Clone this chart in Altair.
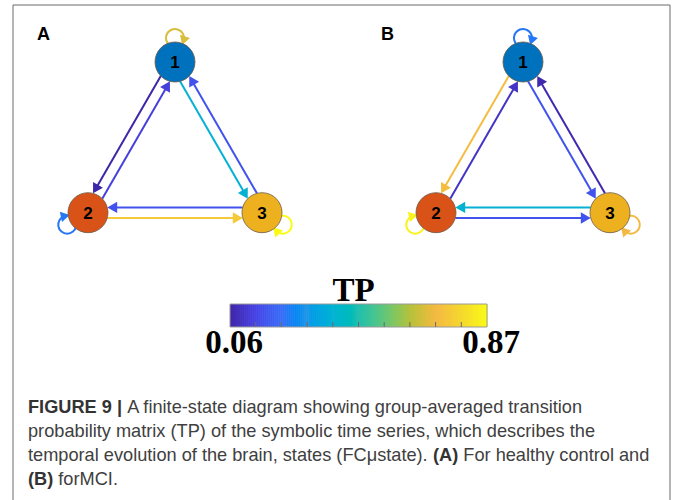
import math
import altair as alt
import pandas as pd

# ---------------------------------------------------------------------------
# Data: group-averaged transition probabilities TP[i][j] (state i -> state j)
# ---------------------------------------------------------------------------
STATES = ["1", "2", "3"]
PANELS = ["A", "B"]
TP_HC = [[0.67, 0.06, 0.38],
         [0.13, 0.24, 0.75],
         [0.17, 0.17, 0.87]]
TP_MCI = [[0.24, 0.72, 0.17],
          [0.10, 0.85, 0.17],
          [0.07, 0.38, 0.71]]
TP_MIN, TP_MAX = 0.06, 0.87
COLORBAR_TITLE = "TP"

# caption: each line is a list of (text, bold) runs
CAPTION = [
    [("FIGURE 9 |", True), ("A finite-state diagram showing group-averaged transition", False)],
    [("probability matrix (TP) of the symbolic time series, which describes the", False)],
    [("temporal evolution of the brain, states (FC\u03bcstate).", False), ("(A)", True),
     ("For healthy control and", False)],
    [("(B)", True), ("forMCI.", False)],
]

# ---------------------------------------------------------------------------
# Layout and style
# ---------------------------------------------------------------------------
W, H = 675, 500
APEX = {"A": (175.0, 62.0), "B": (523.0, 62.0)}
SIDE = 174.0
R_NODE = 20.0
PAIR_OFFSET = 5.3
ARROW_SIZE = 130
ARROW_H = 0.433 * math.sqrt(ARROW_SIZE)
LOOP_D, LOOP_R = 24.0, 9.0
LOOP_ARROW_SIZE = 110
NODE_FILL = ["#0072BD", "#D95319", "#EDB120"]
PANEL_LABEL_POS = {"A": (37, 40), "B": (381, 40)}
BAR_X0, BAR_Y0, BAR_LEN, BAR_THICK = 230, 304, 257, 23
BAR_STEPS = 128
PARULA = ["#3e26a8", "#4743e5", "#3a6cf7", "#2196e8", "#0fb2d2", "#24bfad",
          "#62c67a", "#b6c13e", "#f3b943", "#f4d82d", "#f9fb15"]
SANS = "Liberation Sans"
SERIF = "Liberation Serif"
CAP_SIZE = 18.2
CAP_X0 = 28
CAP_Y = [413, 437, 461, 485]

# advance widths (1/1000 em) of Liberation Sans, regular and bold
_REG = {" ": 278, "(": 333, ")": 333, ",": 278, "-": 333, ".": 278, "|": 260,
        "A": 667, "C": 722, "F": 611, "I": 278, "M": 833, "P": 667, "T": 611,
        "a": 556, "b": 556, "c": 500, "d": 556, "e": 556, "f": 278, "g": 556,
        "h": 556, "i": 222, "j": 222, "k": 500, "l": 222, "m": 833, "n": 556,
        "o": 556, "p": 556, "q": 556, "r": 333, "s": 500, "t": 278, "u": 556,
        "v": 500, "w": 722, "x": 500, "y": 500, "z": 500, "\u03bc": 576}
_BOLD = {" ": 278, "(": 333, ")": 333, "|": 280, "9": 556, "A": 722, "B": 722,
         "E": 667, "F": 611, "G": 778, "I": 278, "R": 722, "U": 722}


def text_width(s, bold, size):
    table = _BOLD if bold else _REG
    return sum(table.get(ch, 556) for ch in s) * size / 1000.0


def node_positions(apex):
    x0, y0 = apex
    hgt = SIDE * math.sqrt(3) / 2
    return [(x0, y0), (x0 - SIDE / 2, y0 + hgt), (x0 + SIDE / 2, y0 + hgt)]


def heading(dx, dy):
    # clockwise degrees from 12 o'clock, screen coordinates (y down)
    return math.degrees(math.atan2(dx, -dy)) % 360


edges, heads, loops, loop_heads, nodes = [], [], [], [], []
for panel, mat in zip(PANELS, [TP_HC, TP_MCI]):
    pos = node_positions(APEX[panel])
    cx = sum(p[0] for p in pos) / 3
    cy = sum(p[1] for p in pos) / 3
    for i, (xi, yi) in enumerate(pos):
        nodes.append({"x": xi, "y": yi, "label": STATES[i], "fill": NODE_FILL[i]})
        for j, (xj, yj) in enumerate(pos):
            tp = mat[i][j]
            if i == j:
                # self transition drawn as a loop pointing away from the centroid
                phi = heading(xi - cx, yi - cy)
                lx = xi + LOOP_D * math.sin(math.radians(phi))
                ly = yi - LOOP_D * math.cos(math.radians(phi))
                loops.append({"x": lx, "y": ly, "tp": tp,
                              "t0": math.radians(phi - 140 + 360),
                              "t1": math.radians(phi + 100 + 360)})
                a = math.radians(phi + 108)
                loop_heads.append({"x": lx + LOOP_R * math.sin(a),
                                   "y": ly - LOOP_R * math.cos(a),
                                   "tp": tp, "ang": (phi + 108 + 90) % 360})
                continue
            L = math.hypot(xj - xi, yj - yi)
            dx, dy = (xj - xi) / L, (yj - yi) / L
            px, py = -dy, dx  # right-hand side of travel
            along = math.sqrt(R_NODE ** 2 - PAIR_OFFSET ** 2)
            sx = xi + PAIR_OFFSET * px + along * dx
            sy = yi + PAIR_OFFSET * py + along * dy
            tx = xj + PAIR_OFFSET * px - along * dx
            ty = yj + PAIR_OFFSET * py - along * dy
            edges.append({"x1": sx, "y1": sy,
                          "x2": tx - 1.6 * ARROW_H * dx, "y2": ty - 1.6 * ARROW_H * dy,
                          "tp": tp})
            heads.append({"x": tx - ARROW_H * dx, "y": ty - ARROW_H * dy,
                          "tp": tp, "ang": heading(dx, dy)})

xs = alt.Scale(domain=[0, W], range=[0, W])
ys = alt.Scale(domain=[0, H], range=[0, H])
X = lambda f: alt.X(f, type="quantitative", scale=xs, axis=None)
Y = lambda f: alt.Y(f, type="quantitative", scale=ys, axis=None)

tp_color = alt.Color("tp:Q", scale=alt.Scale(domain=[TP_MIN, TP_MAX], range=PARULA),
                     legend=None)

# frame
frame = pd.DataFrame([
    {"x1": 13, "y1": 5, "x2": 670, "y2": 5},
    {"x1": 13, "y1": 5, "x2": 13, "y2": H},
    {"x1": 670, "y1": 5, "x2": 670, "y2": H},
])
frame_layer = alt.Chart(frame).mark_rule(color="#6b6b6b", strokeWidth=1).encode(
    x=X("x1"), y=Y("y1"), x2="x2:Q", y2="y2:Q")

edge_layer = alt.Chart(pd.DataFrame(edges)).mark_rule(strokeWidth=2, strokeCap="butt").encode(
    x=X("x1"), y=Y("y1"), x2="x2:Q", y2="y2:Q", color=tp_color)

head_layer = alt.Chart(pd.DataFrame(heads)).mark_point(
    shape="triangle-up", filled=True, opacity=1, size=ARROW_SIZE, strokeWidth=0
).encode(x=X("x"), y=Y("y"), color=tp_color, angle=alt.Angle("ang:Q", scale=None))

loop_layer = alt.Chart(pd.DataFrame(loops)).mark_arc(
    radius=LOOP_R + 1.0, radius2=LOOP_R - 1.0
).encode(
    x=X("x"), y=Y("y"),
    theta=alt.Theta("t0:Q", scale=None, stack=False), theta2="t1:Q",
    color=tp_color)

loop_head_layer = alt.Chart(pd.DataFrame(loop_heads)).mark_point(
    shape="triangle-up", filled=True, opacity=1, size=LOOP_ARROW_SIZE, strokeWidth=0
).encode(x=X("x"), y=Y("y"), color=tp_color, angle=alt.Angle("ang:Q", scale=None))

node_df = pd.DataFrame(nodes)
node_layer = alt.Chart(node_df).mark_circle(
    size=(2 * R_NODE) ** 2, opacity=1, stroke="#6e5a48", strokeWidth=0.8
).encode(x=X("x"), y=Y("y"), fill=alt.Fill("fill:N", scale=None))

node_text = alt.Chart(node_df).mark_text(
    font=SANS, fontSize=17, fontWeight="bold", color="black", baseline="middle", dy=1
).encode(x=X("x"), y=Y("y"), text="label:N")

panel_df = pd.DataFrame([{"x": PANEL_LABEL_POS[p][0], "y": PANEL_LABEL_POS[p][1], "t": p}
                         for p in PANELS])
panel_text = alt.Chart(panel_df).mark_text(
    font=SANS, fontSize=18, fontWeight="bold", color="black", align="left",
    baseline="alphabetic"
).encode(x=X("x"), y=Y("y"), text="t:N")

# colour bar: stripes sampled across the TP range, drawn through the same colour scale
step = BAR_LEN / BAR_STEPS
bar_rows = []
for k in range(BAR_STEPS):
    v = TP_MIN + (k + 0.5) / BAR_STEPS * (TP_MAX - TP_MIN)
    bar_rows.append({"x1": BAR_X0 + k * step, "x2": BAR_X0 + (k + 1) * step + 0.6,
                     "y1": BAR_Y0, "y2": BAR_Y0 + BAR_THICK, "tp": v})
bar_layer = alt.Chart(pd.DataFrame(bar_rows)).mark_rect(strokeWidth=0).encode(
    x=X("x1"), x2="x2:Q", y=Y("y1"), y2="y2:Q", color=tp_color)

bar_frame = alt.Chart(pd.DataFrame([{"x1": BAR_X0, "x2": BAR_X0 + BAR_LEN,
                                     "y1": BAR_Y0, "y2": BAR_Y0 + BAR_THICK}])).mark_rect(
    fill=None, stroke="#9a9a9a", strokeWidth=1).encode(
    x=X("x1"), x2="x2:Q", y=Y("y1"), y2="y2:Q")

tick_vals = [TP_MIN + k * (TP_MAX - TP_MIN) / 10 for k in range(1, 10)]
ticks = pd.DataFrame([{"x": BAR_X0 + (v - TP_MIN) / (TP_MAX - TP_MIN) * BAR_LEN,
                       "y1": BAR_Y0 + BAR_THICK - 5, "y2": BAR_Y0 + BAR_THICK} for v in tick_vals])
tick_layer = alt.Chart(ticks).mark_rule(color="#6a6a6a", strokeWidth=1).encode(
    x=X("x"), y=Y("y1"), y2="y2:Q")

bar_labels = pd.DataFrame([
    {"x": BAR_X0 + 4, "y": 353, "t": f"{TP_MIN:.2f}"},
    {"x": BAR_X0 + BAR_LEN + 4, "y": 353, "t": f"{TP_MAX:.2f}"},
    {"x": BAR_X0 + BAR_LEN / 2 - 5, "y": 301, "t": COLORBAR_TITLE},
])
bar_text = alt.Chart(bar_labels).mark_text(
    font=SERIF, fontSize=33, fontWeight="bold", color="black", baseline="alphabetic"
).encode(x=X("x"), y=Y("y"), text="t:N")

# caption runs laid out one after another on each line
bold_rows, text_rows = [], []
space = text_width(" ", False, CAP_SIZE)
for line, y in zip(CAPTION, CAP_Y):
    x = CAP_X0
    for run, bold in line:
        (bold_rows if bold else text_rows).append({"x": x, "y": y, "t": run})
        x += text_width(run, bold, CAP_SIZE) + space
cap_bold = alt.Chart(pd.DataFrame(bold_rows)).mark_text(
    font=SANS, fontSize=CAP_SIZE, fontWeight="bold", color="#333333", align="left",
    baseline="alphabetic"
).encode(x=X("x"), y=Y("y"), text="t:N")
cap_text = alt.Chart(pd.DataFrame(text_rows)).mark_text(
    font=SANS, fontSize=CAP_SIZE, color="#404040", align="left", baseline="alphabetic"
).encode(x=X("x"), y=Y("y"), text="t:N")

chart = alt.layer(
    frame_layer, edge_layer, head_layer, loop_layer, loop_head_layer,
    node_layer, node_text, panel_text, bar_layer, bar_frame, tick_layer, bar_text,
    cap_bold, cap_text
).properties(
    width=W, height=H, padding=0, autosize=alt.AutoSizeParams(type="none"),
    background="white"
).configure_view(stroke=None)

chart.save("out.html", embed_options={"renderer": "svg", "actions": False})
